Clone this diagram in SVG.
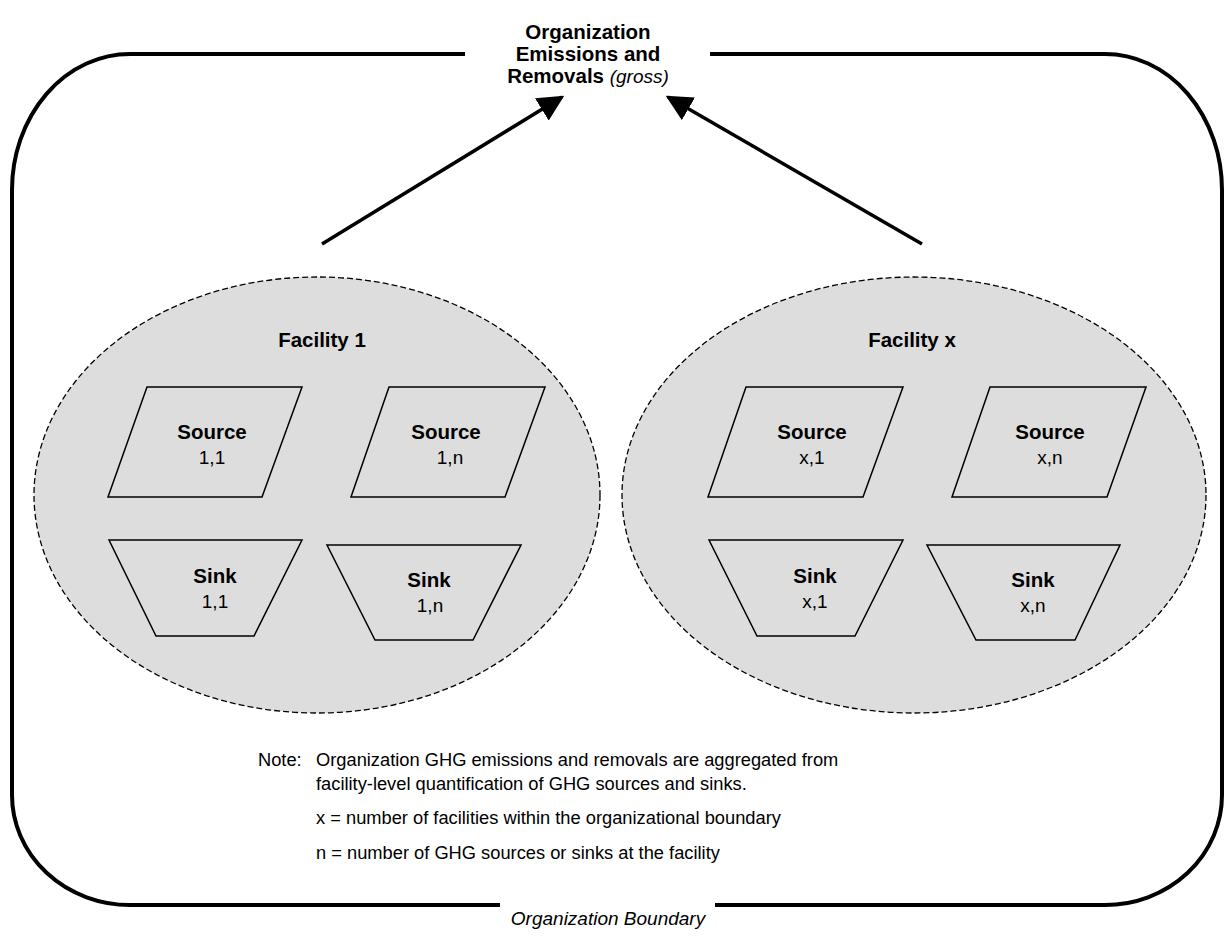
<svg xmlns="http://www.w3.org/2000/svg" width="1228" height="941" viewBox="0 0 1228 941">
<style>
text{font-family:"Liberation Sans",Arial,sans-serif;font-size:19px;fill:#000}
.b{font-weight:bold;font-size:20.5px}
.i{font-style:italic}
.c{text-anchor:middle}
.n{font-size:18.3px}
.bd{fill:none;stroke:#000;stroke-width:4}
.fac{fill:#dddddd;stroke:#000;stroke-width:1.3;stroke-dasharray:6,3}
.shp{fill:#dddddd;stroke:#000;stroke-width:1.5}
.arr{stroke:#000;stroke-width:3.5;fill:none;marker-end:url(#ah)}
</style>
<defs>
<marker id="ah" viewBox="0 0 10 10" refX="9" refY="5" markerWidth="7.5" markerHeight="7.5" markerUnits="strokeWidth" orient="auto">
<path d="M0,0 L10,5 L0,10 z" fill="#000"/>
</marker>
</defs>
<rect width="1228" height="941" fill="#fff"/>
<g id="boundary">
<path class="bd" d="M465,54 L130,54 A118,136 0 0 0 12,190 L12,795 A118,110 0 0 0 130,905 L500,905"/>
<path class="bd" d="M710,54 L1105,54 A117,136 0 0 1 1222,190 L1222,795 A117,110 0 0 1 1105,905 L715,905"/>
<text class="i c" x="608" y="925">Organization Boundary</text>
</g>
<g id="total">
<text class="b c" x="588" y="39">Organization</text>
<text class="b c" x="588" y="61">Emissions and</text>
<text class="c" x="588" y="83"><tspan class="b">Removals </tspan><tspan class="i">(gross)</tspan></text>
</g>
<g id="connectors">
<line class="arr" x1="322" y1="244" x2="562" y2="97"/>
<line class="arr" x1="922" y1="244" x2="668" y2="97"/>
</g>
<g id="facility1">
<ellipse class="fac" cx="317" cy="495" rx="283" ry="218"/>
<text class="b c" x="322" y="347">Facility 1</text>
</g>
<g id="source11">
<polygon class="shp" points="147,387 302,387 262,497 108,497"/>
<text class="b c" x="212" y="439">Source</text>
<text class="c" x="212" y="464">1,1</text>
</g>
<g id="source1n">
<polygon class="shp" points="389,387 545,387 505,497 351,497"/>
<text class="b c" x="446" y="439">Source</text>
<text class="c" x="450" y="464">1,n</text>
</g>
<g id="sink11">
<polygon class="shp" points="109,540 302,540 254,636 156,636"/>
<text class="b c" x="215" y="583">Sink</text>
<text class="c" x="215" y="608">1,1</text>
</g>
<g id="sink1n">
<polygon class="shp" points="327,545 521,545 473,640 375,640"/>
<text class="b c" x="429" y="587">Sink</text>
<text class="c" x="430" y="612">1,n</text>
</g>
<g id="facilityx">
<ellipse class="fac" cx="914" cy="495" rx="292" ry="218"/>
<text class="b c" x="912" y="347">Facility x</text>
</g>
<g id="sourcex1">
<polygon class="shp" points="746,387 903,387 863,497 708,497"/>
<text class="b c" x="812" y="439">Source</text>
<text class="c" x="812" y="464">x,1</text>
</g>
<g id="sourcexn">
<polygon class="shp" points="990,387 1146,387 1107,497 952,497"/>
<text class="b c" x="1050" y="439">Source</text>
<text class="c" x="1050" y="464">x,n</text>
</g>
<g id="sinkx1">
<polygon class="shp" points="709,540 903,540 855,636 757,636"/>
<text class="b c" x="815" y="583">Sink</text>
<text class="c" x="815" y="608">x,1</text>
</g>
<g id="sinkxn">
<polygon class="shp" points="927,545 1120,545 1075,640 976,640"/>
<text class="b c" x="1033" y="587">Sink</text>
<text class="c" x="1033" y="612">x,n</text>
</g>
<g id="note">
<text class="n" x="258" y="766">Note:</text>
<text class="n" x="316" y="766">Organization GHG emissions and removals are aggregated from</text>
<text class="n" x="316" y="790">facility-level quantification of GHG sources and sinks.</text>
<text class="n" x="316" y="824">x = number of facilities within the organizational boundary</text>
<text class="n" x="316" y="859">n = number of GHG sources or sinks at the facility</text>
</g>
</svg>
